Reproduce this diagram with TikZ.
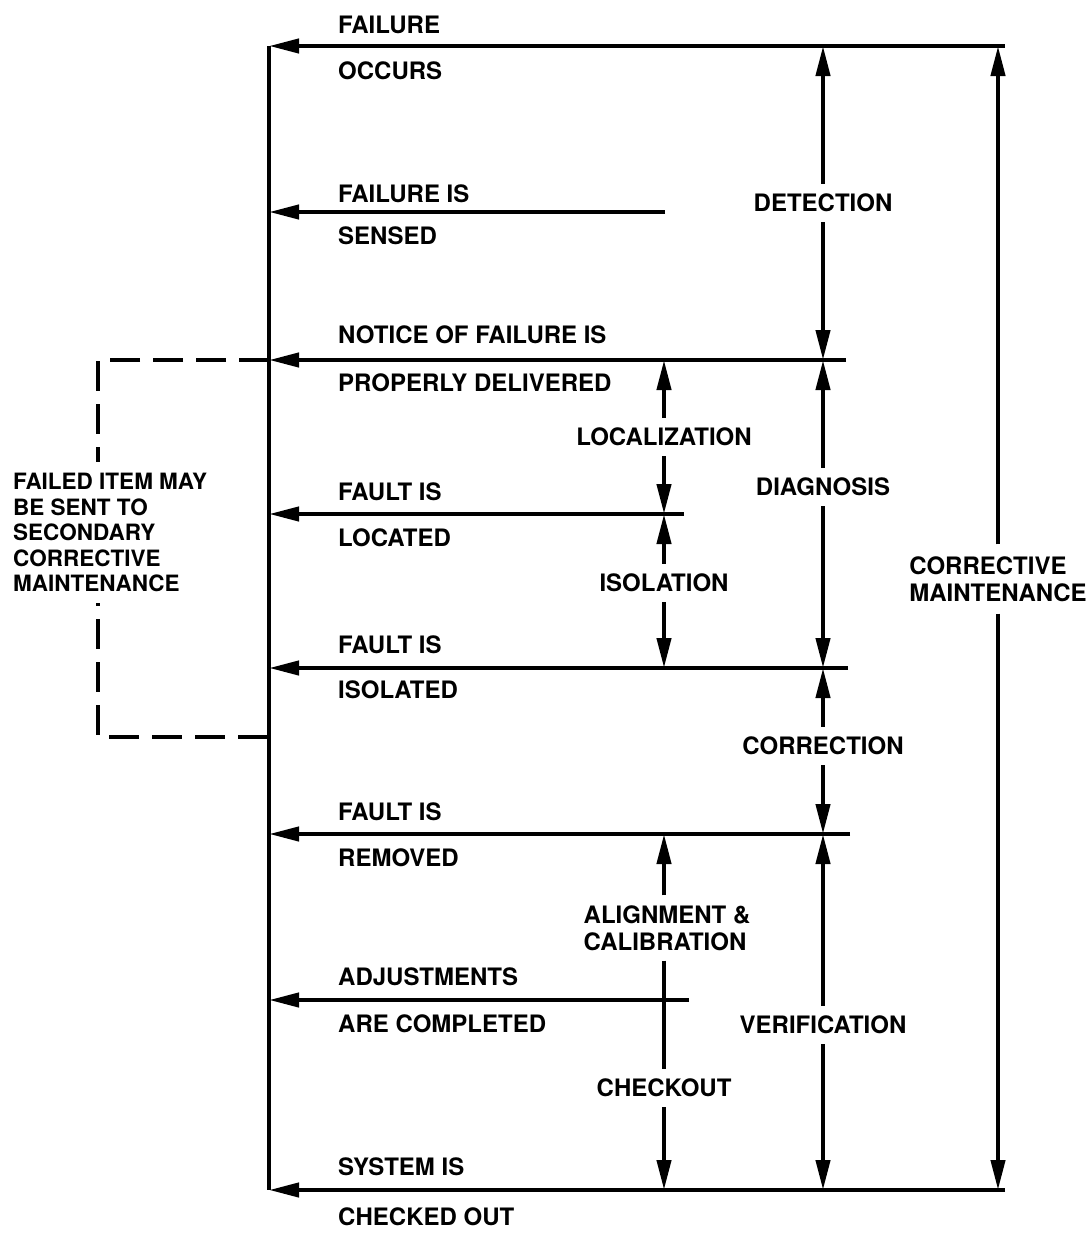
\documentclass[tikz,border=0pt]{standalone}
\usepackage{fontspec}
\setmainfont{TeX Gyre Heros}
\usetikzlibrary{arrows.meta}
\begin{document}
\begin{tikzpicture}[x=1pt,y=-1pt,
  line/.style={line width=4.2pt},
  tip/.style={-{Triangle[length=30pt,width=14pt]}},
  evt/.style={font=\bfseries\fontsize{24}{26}\selectfont, inner sep=0pt, anchor=west},
  dimlab/.style={font=\bfseries\fontsize{24}{27}\selectfont, align=center, inner xsep=2pt, inner ysep=10pt},
  dash box/.style={line width=4.2pt, dash pattern=on 30pt off 13pt},
]
\useasboundingbox (0,0) rectangle (1088,1234);

% left ends (main line) and right ends of the event lines
\coordinate (a1) at (269,46);   \coordinate (b1) at (1005,46);
\coordinate (a2) at (269,212);  \coordinate (b2) at (665,212);
\coordinate (a3) at (269,360);  \coordinate (b3) at (846,360);
\coordinate (a4) at (269,514);  \coordinate (b4) at (684,514);
\coordinate (a5) at (269,668);  \coordinate (b5) at (848,668);
\coordinate (a6) at (269,834);  \coordinate (b6) at (850,834);
\coordinate (a7) at (269,1000); \coordinate (b7) at (689,1000);
\coordinate (a8) at (269,1190); \coordinate (b8) at (1005,1190);

% dimension endpoints
\coordinate (o1) at (823,46);
\coordinate (o3) at (823,360);
\coordinate (o5) at (823,668);
\coordinate (o6) at (823,834);
\coordinate (o8) at (823,1190);
\coordinate (i3) at (664,360);
\coordinate (i4) at (664,514);
\coordinate (i5) at (664,668);
\coordinate (i6) at (664,834);
\coordinate (i7) at (664,1000);
\coordinate (i8) at (664,1190);
\coordinate (c1) at (998,46);
\coordinate (c8) at (998,1190);

% dashed loop corners
\coordinate (d1) at (98,360);
\coordinate (d2) at (98,737);
\coordinate (d3) at (269,737);

% main vertical line
\draw[line] (a1) -- (a8);

% event lines
\foreach \i in {1,...,8} {
  \draw[line,tip] (b\i) -- (a\i);
}

% event texts
\node[evt] (t1a) at (338,25)   {FAILURE};
\node[evt] (t1b) at (338,71)   {OCCURS};
\node[evt] (t2a) at (338,194)  {FAILURE IS};
\node[evt] (t2b) at (338,236)  {SENSED};
\node[evt] (t3a) at (338,335)  {NOTICE OF FAILURE IS};
\node[evt] (t3b) at (338,383)  {PROPERLY DELIVERED};
\node[evt] (t4a) at (338,492)  {FAULT IS};
\node[evt] (t4b) at (338,538)  {LOCATED};
\node[evt] (t5a) at (338,645)  {FAULT IS};
\node[evt] (t5b) at (338,690)  {ISOLATED};
\node[evt] (t6a) at (338,812)  {FAULT IS};
\node[evt] (t6b) at (338,858)  {REMOVED};
\node[evt] (t7a) at (338,977)  {ADJUSTMENTS};
\node[evt] (t7b) at (338,1024) {ARE COMPLETED};
\node[evt] (t8a) at (338,1167) {SYSTEM IS};
\node[evt] (t8b) at (338,1217) {CHECKED OUT};

% dimension labels
\node[dimlab] (det)  at (823,203)  {DETECTION};
\node[dimlab] (diag) at (823,487)  {DIAGNOSIS};
\node[dimlab] (corr) at (823,746)  {CORRECTION};
\node[dimlab] (ver)  at (823,1025) {VERIFICATION};
\node[dimlab] (loc)  at (664,437)  {LOCALIZATION};
\node[dimlab] (iso)  at (664,583)  {ISOLATION};
\node[dimlab, align=left] (ali) at (667,928) {ALIGNMENT \&\\CALIBRATION};
\node[dimlab] (chk)  at (664,1088) {CHECKOUT};
\node[dimlab, align=left, inner ysep=12pt] (cm) at (998,579) {CORRECTIVE\\MAINTENANCE};

% dimension arrows
\draw[line,tip] (det)  -- (o1);
\draw[line,tip] (det)  -- (o3);
\draw[line,tip] (diag) -- (o3);
\draw[line,tip] (diag) -- (o5);
\draw[line,tip] (corr) -- (o5);
\draw[line,tip] (corr) -- (o6);
\draw[line,tip] (ver)  -- (o6);
\draw[line,tip] (ver)  -- (o8);
\draw[line,tip] (loc)  -- (i3);
\draw[line,tip] (loc)  -- (i4);
\draw[line,tip] (iso)  -- (i4);
\draw[line,tip] (iso)  -- (i5);
\draw[line,tip] (ali.north -| i6) -- (i6);
\draw[line] (ali.south -| i7) -- (i7);
\draw[line] (chk)  -- (i7);
\draw[line,tip] (chk)  -- (i8);
\draw[line,tip] (cm.north -| c1) -- (c1);
\draw[line,tip] (cm.south -| c8) -- (c8);

% dashed loop to secondary corrective maintenance
\draw[dash box] (a3) -- (d1) -- (d2) -- (d3);
\node[font=\bfseries\fontsize{22.5}{25.5}\selectfont, align=left, fill=white,
      inner xsep=0pt, inner ysep=11pt, anchor=north west] (sec) at (13,462)
  {FAILED ITEM MAY\\BE SENT TO\\SECONDARY\\CORRECTIVE\\MAINTENANCE};
\end{tikzpicture}
\end{document}
